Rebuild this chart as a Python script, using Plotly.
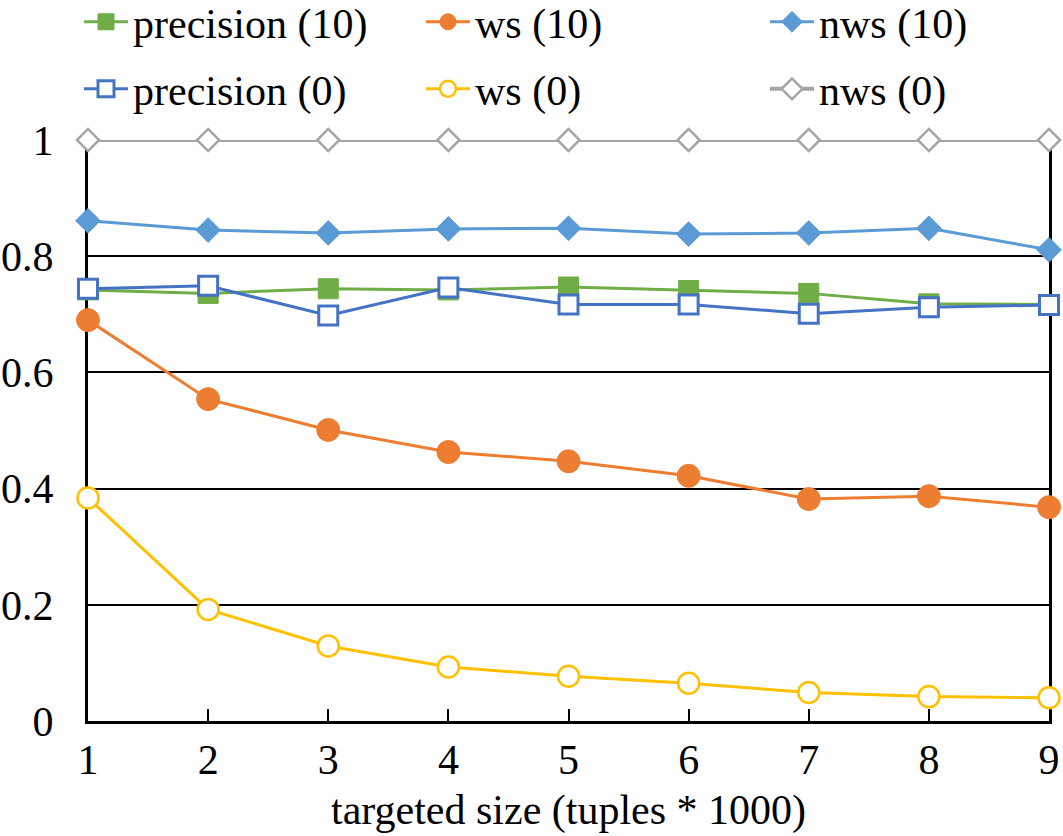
import plotly.graph_objects as go

sizes = [1, 2, 3, 4, 5, 6, 7, 8, 9]
precision_10 = [0.742, 0.736, 0.744, 0.742, 0.747, 0.741, 0.736, 0.718, 0.717]
ws_10 = [0.690, 0.554, 0.501, 0.463, 0.447, 0.422, 0.382, 0.387, 0.368]
nws_10 = [0.861, 0.845, 0.840, 0.847, 0.848, 0.838, 0.840, 0.848, 0.811]
precision_0 = [0.744, 0.749, 0.698, 0.746, 0.717, 0.717, 0.701, 0.712, 0.716]
ws_0 = [0.384, 0.192, 0.129, 0.093, 0.077, 0.065, 0.049, 0.042, 0.040]
nws_0 = [1, 1, 1, 1, 1, 1, 1, 1, 1]
x_title = "targeted size (tuples * 1000)"

FONT = "Liberation Serif, Times New Roman, serif"
FS = 42

series = [
    ("precision (10)", precision_10, "#70AD47", dict(symbol="square", size=20, color="#70AD47", line=dict(color="#70AD47", width=1)), 3),
    ("ws (10)", ws_10, "#ED7D31", dict(symbol="circle", size=23, color="#ED7D31", line=dict(color="#ED7D31", width=1)), 3),
    ("nws (10)", nws_10, "#5B9BD5", dict(symbol="diamond", size=19, color="#5B9BD5", line=dict(color="#5B9BD5", width=1)), 3),
    ("precision (0)", precision_0, "#4472C4", dict(symbol="square", size=19, color="white", line=dict(color="#4472C4", width=3)), 3),
    ("ws (0)", ws_0, "#FFC000", dict(symbol="circle", size=21, color="white", line=dict(color="#FFC000", width=2.5)), 3),
    ("nws (0)", nws_0, "#A5A5A5", dict(symbol="diamond", size=17, color="white", line=dict(color="#A5A5A5", width=2.5)), 4),
]

# plot area in pixels
L, T, W, H = 88, 140, 961, 581
legend_px = [(79, 22), (421, 22), (765, 22), (79, 89), (421, 89), (765, 89)]

fig = go.Figure()
layout_legends = {}
for i, (name, vals, col, mk, lw) in enumerate(series):
    lname = "legend" if i == 0 else f"legend{i+1}"
    fig.add_trace(go.Scatter(
        x=sizes, y=vals, name=name, mode="lines+markers",
        line=dict(color=col, width=lw), marker=mk, cliponaxis=False,
        legend=lname,
    ))
    px, py = legend_px[i]
    layout_legends[lname] = dict(
        x=(px - L) / W, y=(T + H - py) / H, xanchor="left", yanchor="middle",
        font=dict(family=FONT, size=FS, color="black"),
        bgcolor="rgba(0,0,0,0)", itemwidth=44, itemsizing="trace",
        tracegroupgap=0,
    )

fig.update_layout(
    width=1063, height=836,
    margin=dict(l=L, r=1063 - L - W, t=T, b=836 - T - H, autoexpand=False),
    paper_bgcolor="white", plot_bgcolor="white",
    font=dict(family=FONT, size=FS, color="black"),
    showlegend=True,
    annotations=[dict(
        text=x_title, xref="paper", yref="paper", x=0.5, y=(T + H - 810) / H,
        xanchor="center", yanchor="middle", showarrow=False,
        font=dict(family=FONT, size=FS, color="black"),
    )],
    **layout_legends,
)
fig.update_xaxes(
    range=[1, 9], tickvals=sizes, ticktext=[str(s) for s in sizes],
    showgrid=False, zeroline=False, automargin=False,
    showline=True, linecolor="black", linewidth=3,
    ticks="inside", ticklen=12, tickwidth=2, tickcolor="black",
    ticklabelstandoff=0, layer="below traces",
    tickfont=dict(family=FONT, size=FS),
)
fig.update_yaxes(
    range=[0, 1], tickvals=[0, 0.2, 0.4, 0.6, 0.8, 1], ticktext=["0", "0.2", "0.4", "0.6", "0.8", "1"],
    showgrid=True, gridcolor="black", gridwidth=2, automargin=False,
    zeroline=False, showline=True, linecolor="black", linewidth=3, mirror=True,
    ticks="", ticklabelstandoff=23, layer="below traces",
    tickfont=dict(family=FONT, size=FS),
)

fig.write_html(
    "out.html",
    config={"displayModeBar": False},
    post_script="document.body.style.margin='0';document.body.style.padding='0';",
)
